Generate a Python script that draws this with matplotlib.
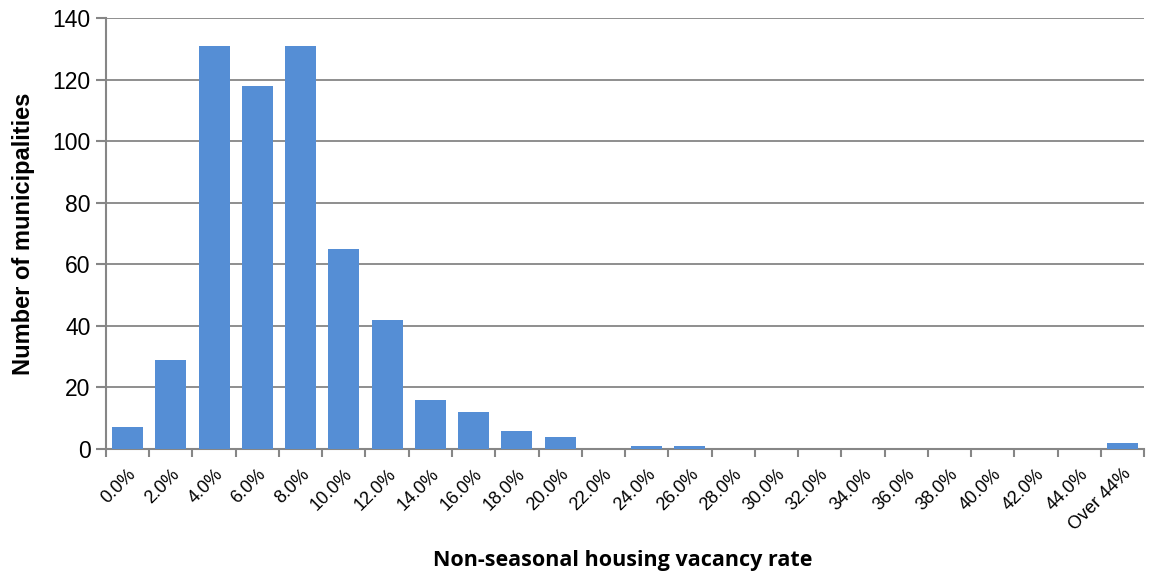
import matplotlib
matplotlib.use("Agg")
import matplotlib.pyplot as plt
import numpy as np

# vacancy rate bins and municipality counts
categories = ["0.0%", "2.0%", "4.0%", "6.0%", "8.0%", "10.0%", "12.0%", "14.0%",
              "16.0%", "18.0%", "20.0%", "22.0%", "24.0%", "26.0%", "28.0%", "30.0%",
              "32.0%", "34.0%", "36.0%", "38.0%", "40.0%", "42.0%", "44.0%", "Over 44%"]
counts = [7, 29, 131, 118, 131, 65, 42, 16, 12, 6, 4, 0, 1, 1, 0, 0,
          0, 0, 0, 0, 0, 0, 0, 2]
y_ticks = [0, 20, 40, 60, 80, 100, 120, 140]

plt.rcParams["font.family"] = ["Liberation Sans", "DejaVu Sans"]

fig = plt.figure(figsize=(11.58, 5.77), dpi=100)
ax = fig.add_axes([0.0915, 0.2218, 0.8965, 0.747])

x = np.arange(len(categories))
ax.bar(x, counts, width=0.72, color="#558ED5", zorder=3)

ax.set_xlim(-0.5, len(categories) - 0.5)
ax.set_ylim(0, 140)
ax.set_yticks(y_ticks)
ax.tick_params(axis="y", labelsize=16.5, length=7, width=1.5, color="#868686", pad=4)
ax.yaxis.grid(True, color="#868686", linewidth=1.3, zorder=0)

# category labels centred under bars, ticks between categories
ax.set_xticks(x)
ax.set_xticklabels(categories, rotation=45, ha="right", rotation_mode="anchor", fontsize=13)
ax.tick_params(axis="x", length=0, pad=12)
ax.set_xticks(np.arange(len(categories) + 1) - 0.5, minor=True)
ax.tick_params(axis="x", which="minor", length=6, width=1.5, color="#868686")

for side in ["top", "right"]:
    ax.spines[side].set_visible(False)
for side in ["left", "bottom"]:
    ax.spines[side].set_color("#868686")
    ax.spines[side].set_linewidth(1.5)

fig.text(0.02, 0.594, "Number of municipalities", rotation=90, ha="center", va="center",
         fontsize=17, fontweight="bold")
fig.text(0.538, 0.029, "Non-seasonal housing vacancy rate", ha="center", va="center",
         fontsize=15.5, fontweight="bold", family=["Open Sans", "DejaVu Sans"])

fig.savefig("out.png", dpi=100)
